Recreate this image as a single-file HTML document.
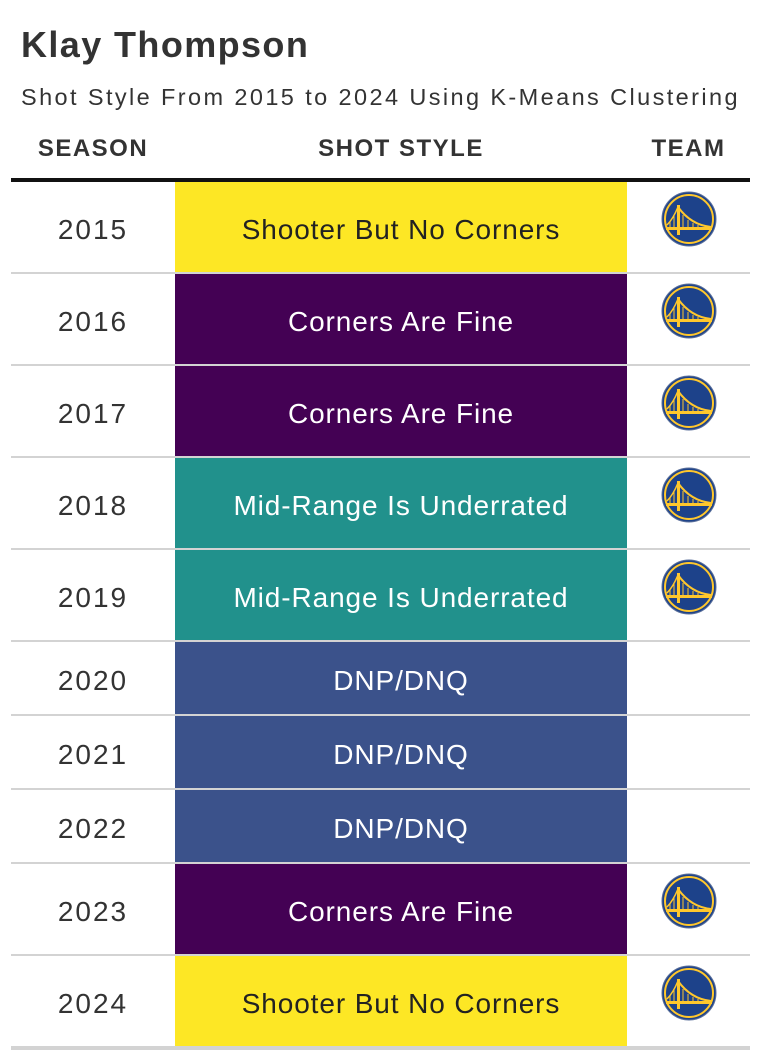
<!DOCTYPE html>
<html><head><meta charset="utf-8">
<style>
body{margin:0;width:760px;height:1058px;background:#fff;font-family:"Liberation Sans",sans-serif;position:relative;overflow:hidden;color:#333}
.abs{position:absolute}
#title{left:21px;top:24px;font-size:36px;font-weight:bold;color:#333;letter-spacing:1.4px}
#sub{left:21px;top:84px;font-size:23.5px;color:#333;letter-spacing:2.4px;white-space:nowrap}
.hdr{top:135px;font-size:24px;font-weight:bold;color:#333;text-align:center;letter-spacing:1.5px}
.cell{display:flex;align-items:center;justify-content:center;font-size:28px;padding-top:5px;box-sizing:border-box;letter-spacing:0.9px}
.yr{letter-spacing:2px}
.sep{height:2px;background:#d3d3d3;left:11px;width:739px}
</style></head><body>
<div class="abs" id="title">Klay Thompson</div>
<div class="abs" id="sub">Shot Style From 2015 to 2024 Using K-Means Clustering</div>
<div class="abs hdr" style="left:11px;width:164px">SEASON</div>
<div class="abs hdr" style="left:175px;width:452px">SHOT STYLE</div>
<div class="abs hdr" style="left:627px;width:123px">TEAM</div>
<div class="abs" style="left:11px;top:178px;width:739px;height:4px;background:#111"></div>
<div id="rows"></div>
<script>
const seasons=["2015","2016","2017","2018","2019","2020","2021","2022","2023","2024"];
const styles=["Shooter But No Corners","Corners Are Fine","Corners Are Fine","Mid-Range Is Underrated","Mid-Range Is Underrated","DNP/DNQ","DNP/DNQ","DNP/DNQ","Corners Are Fine","Shooter But No Corners"];
const played=[1,1,1,1,1,0,0,0,1,1];
const colorMap={"Shooter But No Corners":["#fde725","#222"],"Corners Are Fine":["#440154","#fff"],"Mid-Range Is Underrated":["#21918c","#fff"],"DNP/DNQ":["#3b528b","#fff"]};
const root=document.getElementById('rows');
let y=182;
const logo='<svg width="56" height="56" viewBox="0 0 56 56"><circle cx="28" cy="28" r="27" fill="#1d428a" stroke="#5a6f9a" stroke-width="1"/><circle cx="28" cy="28" r="24" fill="none" stroke="#ffc72c" stroke-width="2"/><rect x="16" y="14" width="3" height="30" fill="#ffc72c"/><path d="M17 16 Q30 34 50 36" fill="none" stroke="#ffc72c" stroke-width="2"/><path d="M17 16 Q12 28 6 34" fill="none" stroke="#ffc72c" stroke-width="1.5"/><rect x="5" y="36" width="46" height="3" fill="#ffc72c"/><path d="M22 24V36M27 29V36M32 32V36M37 34V36M13 24V36M9 30V36" stroke="#ffc72c" stroke-width="1"/></svg>';
seasons.forEach((s,i)=>{
  const h=played[i]?90:72;
  const c=colorMap[styles[i]];
  const sc=document.createElement('div');
  sc.className='abs cell yr';sc.style.cssText=`left:11px;top:${y}px;width:164px;height:${h}px;color:#333`;
  sc.textContent=s;
  
  
  root.appendChild(sc);
  const st=document.createElement('div');
  st.className='abs cell';st.style.cssText=`left:175px;top:${y}px;width:452px;height:${h}px;background:${c[0]};color:${c[1]}`;
  st.textContent=styles[i];
  
  
  root.appendChild(st);
  if(played[i]){
    const lg=document.createElement('div');
    lg.className='abs';lg.style.cssText=`left:661px;top:${y+9}px;width:56px;height:56px`;
    lg.innerHTML=logo;
    
    
    root.appendChild(lg);
  }
  y+=h;
  const sp=document.createElement('div');
  sp.className='abs sep';sp.style.top=y+'px';
  if(i===seasons.length-1){sp.style.height='4px';}
  
  
  root.appendChild(sp);
  y+=2;
});
</script>
</body></html>
